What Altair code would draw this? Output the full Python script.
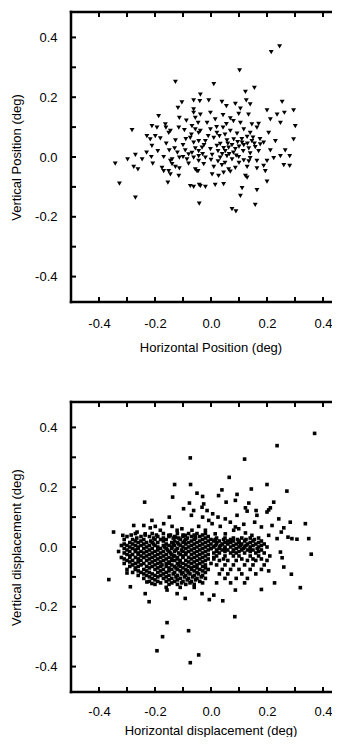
import altair as alt
import pandas as pd

# ---------------- data (degrees) ----------------
top_x = [-0.127, -0.04, -0.104, -0.062, -0.118, -0.062, -0.062, -0.187, -0.113, -0.088, -0.056, -0.046,
         -0.282, -0.211, -0.193, -0.163, -0.161, -0.145, -0.115, -0.068, -0.056, -0.044, -0.229, -0.217,
         -0.199, -0.181, -0.151, -0.127, -0.074, -0.062, -0.044, -0.211, -0.149, -0.13, -0.092, -0.08,
         -0.056, -0.068, -0.044, -0.342, -0.298, -0.27, -0.246, -0.213, -0.208, -0.169, -0.145, -0.139,
         -0.113, -0.086, -0.08, -0.062, -0.044, -0.139, -0.276, -0.261, -0.175, -0.169, -0.145, -0.127,
         -0.113, -0.115, -0.151, -0.056, -0.046, -0.327, -0.154, -0.074, -0.062, -0.042, -0.27, -0.042,
         0.102, 0.01, 0.155, 0.123, -0.038, -0.008, 0.039, 0.055, 0.087, 0.105, 0.14, 0.126, 0.254,
         -0.038, -0.002, 0.043, 0.099, 0.134, 0.2, 0.236, 0.262, 0.295, -0.014, 0.015, 0.069, 0.105,
         0.146, 0.17, 0.212, 0.248, 0.301, -0.038, -0.002, 0.021, 0.043, 0.069, 0.093, 0.117, 0.14,
         0.164, 0.206, -0.02, 0.01, 0.033, 0.057, 0.081, 0.111, 0.129, 0.146, 0.176, 0.188, 0.23, 0.295,
         -0.032, -0.002, 0.021, 0.051, 0.063, 0.087, 0.117, 0.135, 0.158, 0.17, 0.212, 0.265, -0.044,
         -0.02, 0.004, 0.033, 0.057, 0.075, 0.099, 0.117, 0.14, 0.164, 0.2, 0.224, 0.248, 0.281, -0.026,
         0.01, 0.039, 0.063, 0.087, 0.129, 0.164, 0.188, 0.26, 0.281, -0.05, 0.004, 0.027, 0.045, 0.069,
         0.123, 0.194, -0.038, -0.02, 0.015, 0.045, 0.129, 0.111, 0.164, 0.2, 0.105, 0.075, 0.089, 0.158,
         0.215, 0.245,
         0.03, 0.05, 0.06, 0.075, 0.08, 0.095, 0.1, 0.11, 0.115, 0.13, 0.15, 0.04, 0.025, 0.065, 0.045,
         0.09, 0.14, 0.155, 0.175, 0.02, 0.055, 0.08, -0.01, -0.025, -0.03, 0.0, 0.025, 0.05, 0.1, 0.135,
         -0.09, -0.1, -0.07, -0.095, -0.1, -0.12, -0.19, -0.23, -0.16]
top_y = [0.251, 0.187, 0.183, 0.189, 0.164, 0.159, 0.148, 0.137, 0.131, 0.122, 0.131, 0.114,
         0.09, 0.103, 0.098, 0.109, 0.098, 0.087, 0.098, 0.103, 0.092, 0.081, 0.07, 0.059,
         0.07, 0.062, 0.081, 0.056, 0.064, 0.048, 0.053, 0.037, 0.022, 0.029, 0.022, 0.009,
         0.029, 0.014, 0.02, -0.022, -0.008, 0.007, -0.008, 0.0, -0.022, 0.0, -0.013, -0.008,
         -0.002, -0.008, -0.022, -0.002, -0.013, -0.024, -0.033, -0.041, -0.036, -0.047, -0.058, -0.033,
         -0.038, -0.063, -0.047, -0.041, -0.047, -0.089, -0.086, -0.097, -0.1, -0.093, -0.136, -0.156,
         0.29, 0.244, 0.231, 0.218, 0.209, 0.189, 0.184, 0.17, 0.178, 0.162, 0.176, 0.189, 0.184,
         0.142, 0.148, 0.14, 0.144, 0.142, 0.156, 0.142, 0.148, 0.156, 0.114, 0.126, 0.129, 0.114,
         0.109, 0.111, 0.126, 0.114, 0.103, 0.087, 0.092, 0.081, 0.098, 0.087, 0.078, 0.092, 0.081,
         0.098, 0.081, 0.053, 0.064, 0.044, 0.056, 0.059, 0.048, 0.067, 0.053, 0.042, 0.048, 0.053, 0.059,
         0.031, 0.026, 0.037, 0.02, 0.031, 0.026, 0.04, 0.029, 0.033, 0.02, 0.022, 0.022, 0.003,
         -0.002, 0.007, -0.002, 0.003, -0.008, 0.0, -0.011, -0.004, -0.013, -0.013, -0.004, 0.003, 0.003, -0.024,
         -0.033, -0.027, -0.041, -0.036, -0.033, -0.038, -0.03, -0.027, -0.03, -0.047, -0.058, -0.063, -0.052, -0.049,
         -0.063, -0.047, -0.097, -0.1, -0.093, -0.091, -0.069, -0.104, -0.111, -0.082, -0.13, -0.174, -0.182, -0.16,
         0.351, 0.37,
         0.07, 0.075, 0.045, 0.04, 0.015, 0.05, 0.035, 0.06, 0.02, 0.045, 0.065, 0.01, 0.02, 0.01, 0.03,
         0.005, 0.012, 0.045, 0.06, 0.1, 0.11, 0.12, 0.07, 0.04, 0.01, -0.01, -0.015, -0.02, -0.02, -0.015,
         0.06, 0.04, 0.075, 0.09, 0.0, 0.015, 0.02, 0.015, 0.045]

# bottom panel: scattered points
bot_x = [-0.074, -0.13, -0.073, -0.137, -0.237, -0.05, -0.03, -0.077, -0.098, -0.062, -0.07, -0.032,
         -0.03, -0.149, -0.211, -0.24, -0.217, -0.199, -0.181, -0.276, -0.348, -0.315, -0.264, -0.235,
         -0.169, -0.139, -0.121, -0.104, -0.068, -0.044, -0.151, -0.127, -0.092, -0.056,
         0.37, 0.236, 0.12, 0.065, 0.2, 0.271, 0.144, 0.039, 0.027, 0.093, 0.054, 0.087, 0.135, 0.224,
         0.212, 0.123, 0.129, 0.161, 0.2, 0.206, 0.006, 0.025, 0.051, 0.093, 0.164, 0.242, -0.026,
         -0.014, -0.008, 0.004, 0.033, 0.069, 0.087, 0.117, 0.156, 0.18, 0.218, 0.26, 0.283, 0.337,
         0.251, 0.289, 0.307, 0.349, 0.275, -0.02, 0.015, 0.051, 0.081, 0.099, 0.123, 0.146, 0.206, 0.236,
         -0.365, -0.288, -0.235, -0.221, -0.157, -0.08, -0.173, -0.193, -0.044, -0.074, -0.3, -0.032,
         -0.092, -0.121, -0.157, -0.211, -0.229,
         0.358, 0.287, 0.227, 0.319, 0.18, 0.087, 0.042, -0.006, 0.01, 0.085, 0.254, 0.248, 0.206, 0.26]
bot_y = [0.298, 0.209, 0.209, 0.167, 0.15, 0.18, 0.169, 0.147, 0.128, 0.122, 0.106, 0.133,
         0.1, 0.1, 0.089, 0.072, 0.064, 0.069, 0.056, 0.072, 0.05, 0.039, 0.05, 0.044,
         0.078, 0.069, 0.056, 0.061, 0.056, 0.069, 0.039, 0.033, 0.039, 0.036,
         0.38, 0.339, 0.294, 0.233, 0.209, 0.187, 0.194, 0.191, 0.172, 0.176, 0.15, 0.156, 0.147, 0.15,
         0.131, 0.131, 0.12, 0.122, 0.117, 0.124, 0.111, 0.1, 0.094, 0.106, 0.106, 0.094, 0.144,
         0.122, 0.089, 0.078, 0.069, 0.083, 0.067, 0.076, 0.083, 0.067, 0.072, 0.064, 0.083, 0.078,
         0.05, 0.028, 0.026, 0.028, 0.033, 0.056, 0.044, 0.044, 0.056, 0.061, 0.047, 0.039, 0.039, 0.028,
         -0.109, -0.133, -0.156, -0.183, -0.253, -0.28, -0.3, -0.347, -0.361, -0.387, -0.087, -0.156,
         -0.172, -0.156, -0.144, -0.122, -0.117,
         -0.024, -0.091, -0.12, -0.136, -0.142, -0.144, -0.18, -0.176, -0.161, -0.233, -0.036, -0.017, -0.08, -0.067]

# bottom panel: dense clusters, read row by row (row y value, x values in that row)
dense_row_y = [0.045, 0.035, 0.025, 0.015, 0.005, -0.005, -0.015, -0.025, -0.035, -0.045,
               -0.055, -0.065, -0.075, -0.085, -0.095, -0.105, -0.115, -0.125, -0.135,
               0.03, 0.02, 0.01, 0.0, -0.01, -0.02, -0.03, -0.045, -0.06, -0.075, -0.09, -0.105, -0.12,
               0.04, 0.03, 0.02, 0.01, 0.0, -0.01, -0.02, -0.03, -0.04, -0.05, -0.06, -0.07, -0.08,
               -0.09, -0.1, -0.11, -0.12,
               0.025, 0.015, 0.005, -0.005, -0.015, -0.04]
dense_row_x = [
    [-0.27, -0.21, -0.17, -0.12, -0.08, -0.05, -0.02],
    [-0.3, -0.25, -0.22, -0.19, -0.15, -0.13, -0.1, -0.07, -0.04, -0.01],
    [-0.31, -0.28, -0.24, -0.2, -0.18, -0.16, -0.11, -0.09, -0.06, -0.03, 0.0],
    [-0.29, -0.26, -0.23, -0.21, -0.19, -0.14, -0.12, -0.1, -0.08, -0.05, -0.02],
    [-0.32, -0.3, -0.27, -0.25, -0.22, -0.2, -0.17, -0.15, -0.13, -0.11, -0.07, -0.04, -0.01],
    [-0.31, -0.28, -0.26, -0.24, -0.21, -0.18, -0.16, -0.14, -0.12, -0.09, -0.06, -0.03, 0.0],
    [-0.33, -0.29, -0.27, -0.25, -0.23, -0.2, -0.17, -0.15, -0.13, -0.1, -0.08, -0.05, -0.02],
    [-0.3, -0.28, -0.26, -0.22, -0.19, -0.16, -0.14, -0.11, -0.09, -0.07, -0.04, -0.01],
    [-0.32, -0.29, -0.27, -0.24, -0.21, -0.18, -0.15, -0.12, -0.1, -0.08, -0.06, -0.03, 0.01],
    [-0.3, -0.28, -0.25, -0.23, -0.2, -0.17, -0.14, -0.13, -0.11, -0.09, -0.05, -0.02],
    [-0.31, -0.27, -0.24, -0.22, -0.19, -0.16, -0.15, -0.12, -0.1, -0.07, -0.04, 0.0],
    [-0.29, -0.26, -0.23, -0.21, -0.18, -0.16, -0.13, -0.11, -0.08, -0.06, -0.03],
    [-0.3, -0.27, -0.24, -0.2, -0.17, -0.14, -0.12, -0.09, -0.07, -0.04, -0.01],
    [-0.28, -0.25, -0.22, -0.19, -0.16, -0.13, -0.1, -0.08, -0.05, -0.02],
    [-0.26, -0.23, -0.2, -0.18, -0.15, -0.12, -0.09, -0.06, -0.03],
    [-0.24, -0.21, -0.17, -0.14, -0.11, -0.08, -0.05, -0.02],
    [-0.22, -0.19, -0.16, -0.13, -0.1, -0.07, -0.04],
    [-0.2, -0.15, -0.12, -0.09, -0.06],
    [-0.16, -0.11, -0.06],
    [0.02, 0.05, 0.08, 0.11, 0.14, 0.17],
    [0.01, 0.03, 0.06, 0.08, 0.1, 0.12, 0.15, 0.18],
    [0.0, 0.02, 0.04, 0.06, 0.09, 0.11, 0.13, 0.16, 0.19],
    [0.01, 0.03, 0.05, 0.07, 0.1, 0.12, 0.14, 0.17, 0.2],
    [0.02, 0.04, 0.06, 0.08, 0.11, 0.13, 0.15, 0.18],
    [0.01, 0.03, 0.07, 0.09, 0.12, 0.16, 0.19],
    [0.02, 0.05, 0.08, 0.1, 0.14, 0.17, 0.21],
    [0.03, 0.06, 0.09, 0.13, 0.16, 0.2],
    [0.02, 0.05, 0.08, 0.12, 0.15, 0.19],
    [0.04, 0.07, 0.1, 0.14, 0.18],
    [0.03, 0.06, 0.11, 0.16],
    [0.05, 0.09, 0.13],
    [0.02, 0.07, 0.12],
    [-0.285, -0.235, -0.195, -0.145, -0.1, -0.06, -0.03],
    [-0.265, -0.205, -0.17, -0.135, -0.115, -0.085, -0.055, -0.02],
    [-0.27, -0.25, -0.215, -0.17, -0.13, -0.095, -0.07, -0.04, -0.01],
    [-0.31, -0.28, -0.24, -0.205, -0.16, -0.135, -0.115, -0.09, -0.06, -0.03],
    [-0.29, -0.26, -0.23, -0.19, -0.165, -0.14, -0.1, -0.08, -0.05, -0.02],
    [-0.3, -0.27, -0.22, -0.19, -0.155, -0.125, -0.105, -0.07, -0.04, -0.01],
    [-0.31, -0.26, -0.24, -0.21, -0.18, -0.145, -0.115, -0.09, -0.06, -0.03],
    [-0.29, -0.25, -0.23, -0.2, -0.17, -0.135, -0.13, -0.1, -0.05, -0.02],
    [-0.31, -0.26, -0.22, -0.19, -0.16, -0.14, -0.12, -0.07, -0.04, -0.01],
    [-0.29, -0.26, -0.21, -0.18, -0.15, -0.11, -0.08, -0.06, -0.03],
    [-0.28, -0.25, -0.2, -0.175, -0.14, -0.115, -0.09, -0.05, -0.02],
    [-0.27, -0.22, -0.19, -0.15, -0.125, -0.1, -0.07, -0.05, -0.02],
    [-0.26, -0.23, -0.18, -0.15, -0.11, -0.085, -0.06, -0.03],
    [-0.24, -0.21, -0.17, -0.135, -0.105, -0.075, -0.045],
    [-0.22, -0.19, -0.16, -0.125, -0.095, -0.065, -0.035],
    [-0.2, -0.15, -0.12, -0.085, -0.055],
    [-0.18, -0.14, -0.105, -0.075, -0.03],
    [0.015, 0.045, 0.07, 0.095, 0.125, 0.155],
    [0.02, 0.05, 0.07, 0.1, 0.14, 0.17],
    [0.015, 0.035, 0.08, 0.105, 0.125, 0.15, 0.18],
    [0.0, 0.03, 0.05, 0.09, 0.115, 0.14, 0.165],
    [0.02, 0.05, 0.08, 0.1, 0.14, 0.17],
    [0.01, 0.045, 0.11, 0.15, 0.18],
]

minor_ticks = [-0.4, -0.3, -0.2, -0.1, 0.0, 0.1, 0.2, 0.3, 0.4]
label_ticks = [-0.4, -0.2, 0.0, 0.2, 0.4]

# ---------------- chart ----------------
W, H = 279, 290
XDOM = [-0.5, -0.5 + W / 280.0]
YDOM = [-0.485, 0.485]
TL = 5
FW = 2.5
FONT = "Liberation Sans"
LABEL_EXPR = "datum.value < -0.001 ? '-' + format(abs(datum.value), '.1f') : format(abs(datum.value), '.1f')"


def panel(xs, ys, xtitle, ytitle, shape, msize, lpad, tpad):
    df = pd.DataFrame({"x": xs, "y": ys})
    xsc = alt.Scale(domain=XDOM, nice=False, zero=False)
    ysc = alt.Scale(domain=YDOM, nice=False, zero=False)
    xax = alt.Axis(title=xtitle, values=label_ticks, labelExpr=LABEL_EXPR, ticks=False,
                   domain=False, grid=False, labelPadding=lpad, titlePadding=tpad)
    yax = alt.Axis(title=ytitle, values=label_ticks, labelExpr=LABEL_EXPR, ticks=False,
                   domain=False, grid=False, labelPadding=14, titlePadding=11)
    pts = alt.Chart(df).mark_point(
        filled=True, shape=shape, size=msize, color="black", opacity=1
    ).encode(
        x=alt.X("x:Q", scale=xsc, axis=xax, title=xtitle),
        y=alt.Y("y:Q", scale=ysc, axis=yax, title=ytitle),
    )
    tdf = pd.DataFrame({"t": minor_ticks})
    tb = alt.Chart(tdf)
    rule = dict(color="black", strokeWidth=2)
    bottom = tb.mark_rule(**rule).encode(
        x=alt.X("t:Q", scale=xsc, axis=xax, title=xtitle), y=alt.value(H), y2=alt.value(H - TL))
    top = tb.mark_rule(**rule).encode(
        x=alt.X("t:Q", scale=xsc, axis=xax, title=xtitle), y=alt.value(0), y2=alt.value(TL))
    left = tb.mark_rule(**rule).encode(
        y=alt.Y("t:Q", scale=ysc, axis=yax, title=ytitle), x=alt.value(0), x2=alt.value(TL))
    right = tb.mark_rule(**rule).encode(
        y=alt.Y("t:Q", scale=ysc, axis=yax, title=ytitle), x=alt.value(W), x2=alt.value(W - TL))
    # frame: left, top and bottom edges (the right edge lies past the page edge)
    fb = alt.Chart(pd.DataFrame({"f": [0]}))
    fr = dict(color="black", strokeWidth=FW, strokeCap="square")
    f_left = fb.mark_rule(**fr).encode(x=alt.value(0), y=alt.value(0), y2=alt.value(H))
    f_top = fb.mark_rule(**fr).encode(x=alt.value(0), x2=alt.value(W), y=alt.value(0))
    f_bot = fb.mark_rule(**fr).encode(x=alt.value(0), x2=alt.value(W), y=alt.value(H))
    return alt.layer(pts, bottom, top, left, right, f_left, f_top, f_bot).properties(
        width=W, height=H)


dense_x = [x for row in dense_row_x for x in row]
dense_y = [y for y, row in zip(dense_row_y, dense_row_x) for _ in row]

p1 = panel(top_x, top_y, "Horizontal Position (deg)", "Vertical Position (deg)",
           "triangle-down", 24, 15, 11)
p2 = panel(bot_x + dense_x, bot_y + dense_y,
           "Horizontal displacement (deg)", "Vertical displacement (deg)", "square", 13, 13, 6)

chart = alt.vconcat(p1, p2, spacing=46).properties(
    padding={"left": 2, "top": 2, "right": -20, "bottom": 0},
    background="white",
).configure_view(
    strokeWidth=0
).configure_axis(
    labelFont=FONT, labelFontSize=13, labelColor="black",
    titleFont=FONT, titleFontSize=13, titleFontWeight="normal", titleColor="black",
)

chart.save("out.html", embed_options={"renderer": "svg", "actions": False})
